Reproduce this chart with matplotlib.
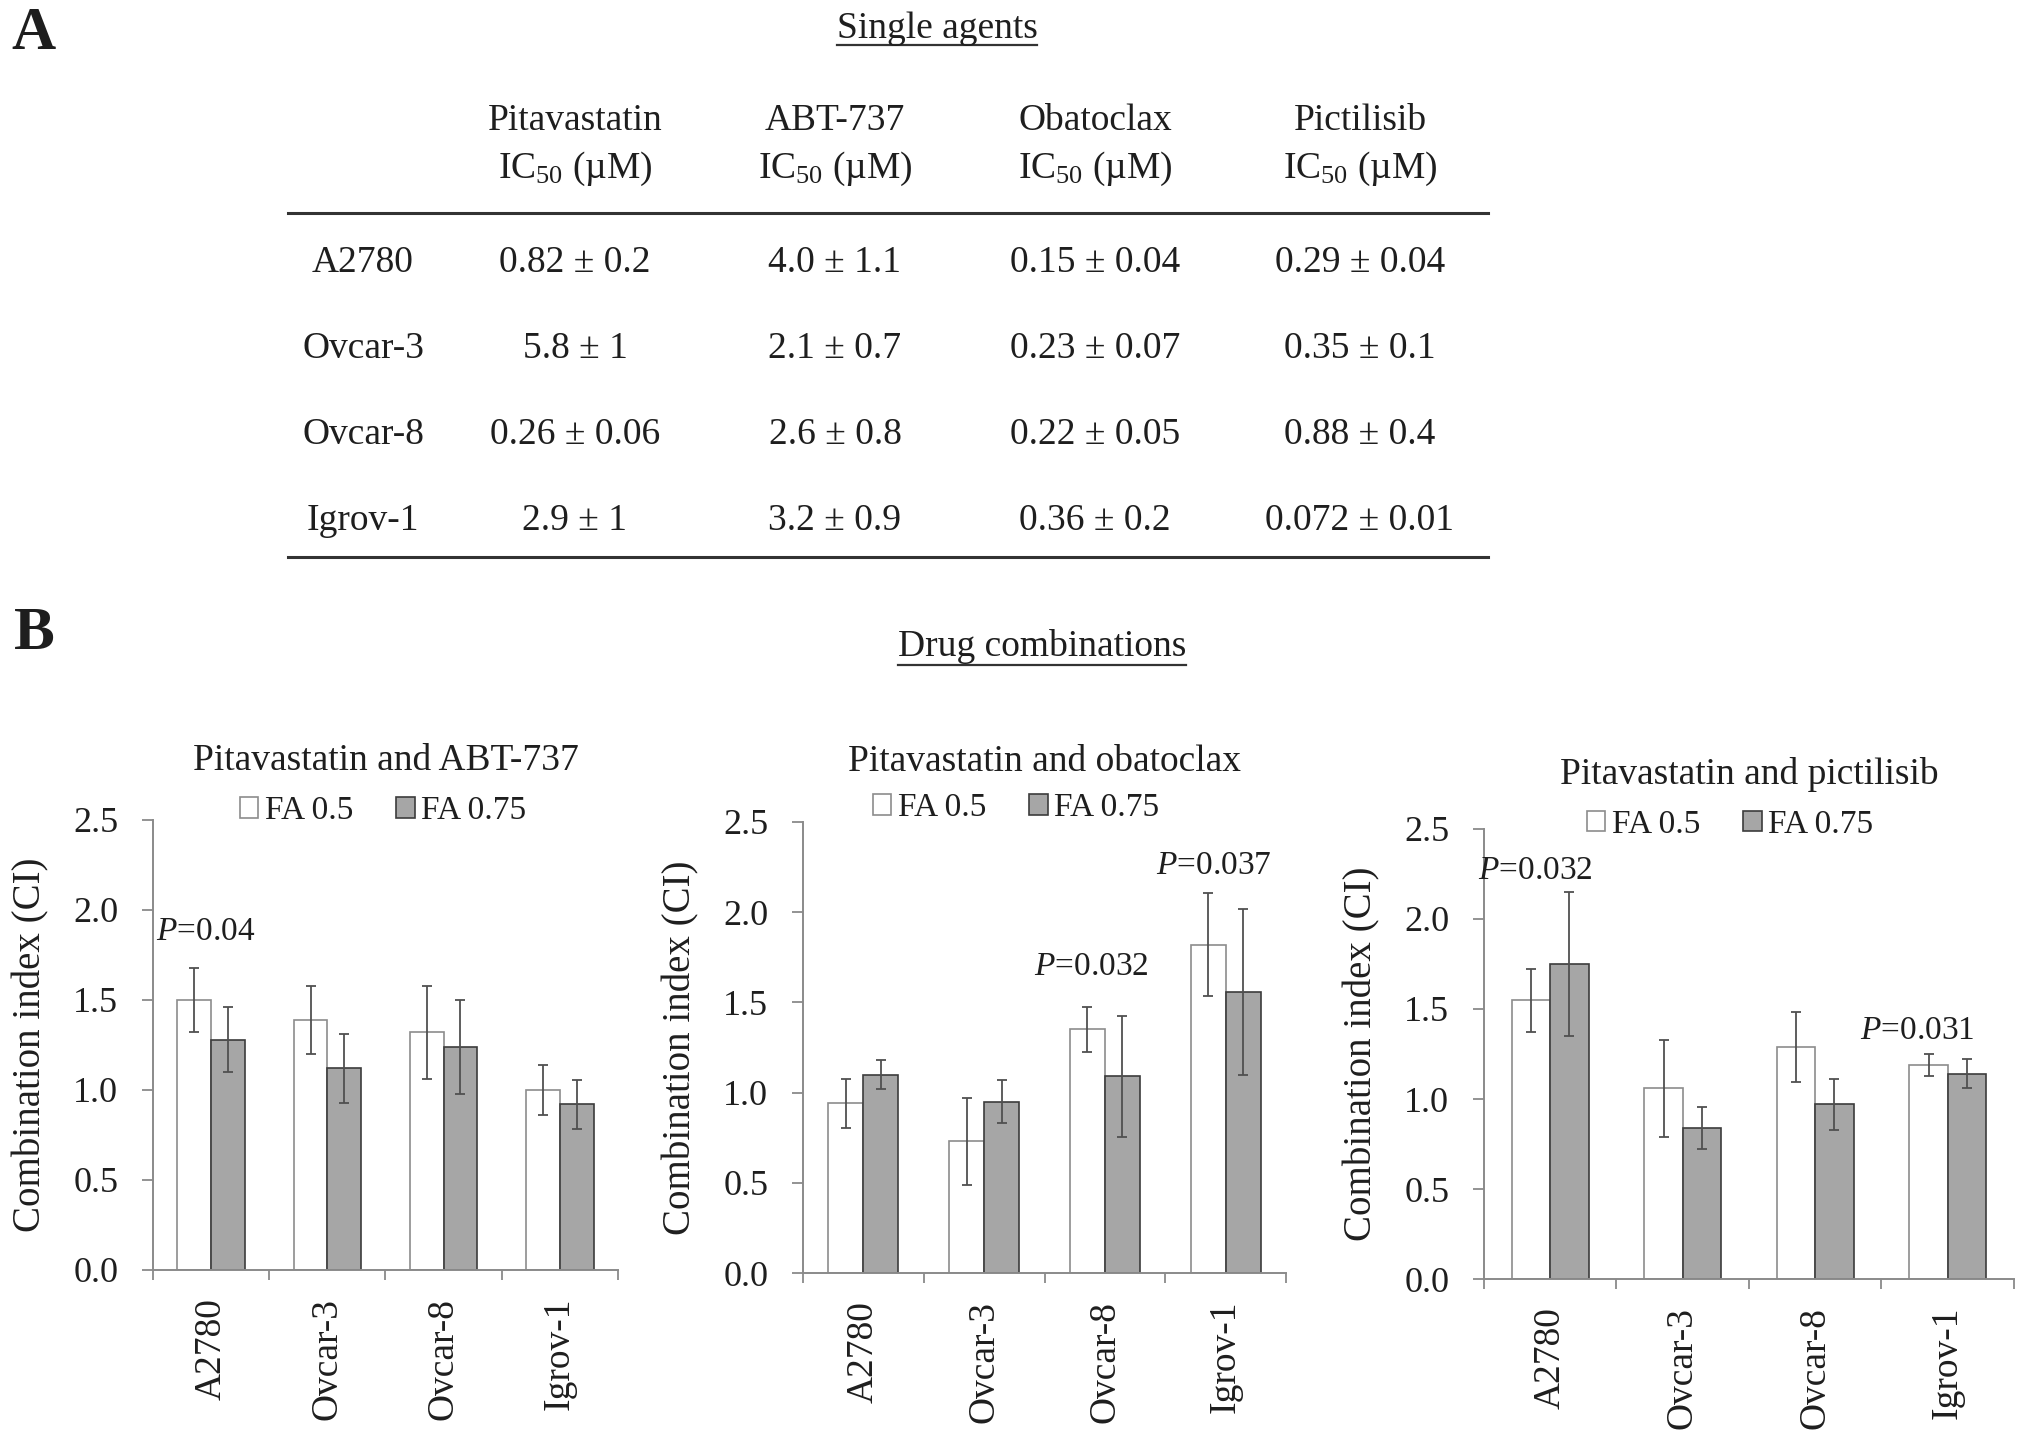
"""Single-agent IC50 table (A) and drug-combination CI bar charts (B)."""
import numpy as np
import matplotlib
matplotlib.use("Agg")
import matplotlib.pyplot as plt
from matplotlib.lines import Line2D
from matplotlib.patches import Patch

plt.rcParams["font.family"] = ["Liberation Serif", "DejaVu Serif"]
plt.rcParams["mathtext.fontset"] = "custom"
plt.rcParams["mathtext.rm"] = "Liberation Serif"
plt.rcParams["mathtext.it"] = "Liberation Serif:italic"

# ---- data -------------------------------------------------------------
cell_lines = ["A2780", "Ovcar-3", "Ovcar-8", "Igrov-1"]
drugs = ["Pitavastatin", "ABT-737", "Obatoclax", "Pictilisib"]

pitavastatin_ic50 = ["0.82 ± 0.2", "5.8 ± 1", "0.26 ± 0.06", "2.9 ± 1"]
abt737_ic50 = ["4.0 ± 1.1", "2.1 ± 0.7", "2.6 ± 0.8", "3.2 ± 0.9"]
obatoclax_ic50 = ["0.15 ± 0.04", "0.23 ± 0.07", "0.22 ± 0.05", "0.36 ± 0.2"]
pictilisib_ic50 = ["0.29 ± 0.04", "0.35 ± 0.1", "0.88 ± 0.4", "0.072 ± 0.01"]

combo_titles = ["Pitavastatin and ABT-737", "Pitavastatin and obatoclax",
                "Pitavastatin and pictilisib"]
series_labels = ["FA 0.5", "FA 0.75"]

abt_fa50 = [1.50, 1.39, 1.32, 1.00]
abt_fa50_err = [0.18, 0.19, 0.26, 0.14]
abt_fa75 = [1.28, 1.12, 1.24, 0.92]
abt_fa75_err = [0.18, 0.19, 0.26, 0.135]

oba_fa50 = [0.94, 0.73, 1.35, 1.82]
oba_fa50_err = [0.135, 0.24, 0.125, 0.285]
oba_fa75 = [1.10, 0.95, 1.09, 1.56]
oba_fa75_err = [0.08, 0.12, 0.335, 0.46]

pic_fa50 = [1.55, 1.06, 1.29, 1.19]
pic_fa50_err = [0.175, 0.27, 0.195, 0.06]
pic_fa75 = [1.75, 0.84, 0.97, 1.14]
pic_fa75_err = [0.40, 0.115, 0.14, 0.08]

# p-value labels per panel: (cell line index, text)
abt_pvals = [(0, "0.04")]
oba_pvals = [(2, "0.032"), (3, "0.037")]
pic_pvals = [(0, "0.032"), (3, "0.031")]

# ---- layout (pixels of a 2031 x 1443 canvas) --------------------------
W, H = 2031, 1443
TXT = "#1e1e1e"
AXC = "#8a8a8a"


def fx(x):
    return x / W


def fy(y):
    return 1 - y / H


fig = plt.figure(figsize=(W / 100, H / 100), dpi=100)

# panel letters and section titles
fig.text(fx(34), fy(34), "A", fontsize=44, fontweight="bold", ha="center",
         va="center", color=TXT)
fig.text(fx(34), fy(634), "B", fontsize=44, fontweight="bold", ha="center",
         va="center", color=TXT)
sec_a = fig.text(fx(937), fy(38), "Single agents", fontsize=27, ha="center",
                 va="baseline", color=TXT)
sec_b = fig.text(fx(1042), fy(656), "Drug combinations", fontsize=27,
                 ha="center", va="baseline", color=TXT)

# ---- table ------------------------------------------------------------
col_x = [575, 835, 1095, 1360]
row_y = [272, 358, 444, 530]
columns = [pitavastatin_ic50, abt737_ic50, obatoclax_ic50, pictilisib_ic50]

for x, name, vals in zip(col_x, drugs, columns):
    fig.text(fx(x), fy(130), name, fontsize=27, ha="center", va="baseline",
             color=TXT)
    fig.text(fx(x), fy(178), "IC$_{50}$ (µM)", fontsize=27, ha="center",
             va="baseline", color=TXT)
    for y, v in zip(row_y, vals):
        fig.text(fx(x), fy(y), v, fontsize=27, ha="center", va="baseline",
                 color=TXT)

for y, name in zip(row_y, cell_lines):
    fig.text(fx(363), fy(y), name, fontsize=27, ha="center", va="baseline",
             color=TXT)

for y in (213, 557):
    fig.add_artist(Line2D([fx(288), fx(1488)], [fy(y), fy(y)],
                          transform=fig.transFigure, color="#333333", lw=2.2))

# ---- bar charts -------------------------------------------------------
panels = [
    (combo_titles[0], abt_fa50, abt_fa50_err, abt_fa75, abt_fa75_err, abt_pvals),
    (combo_titles[1], oba_fa50, oba_fa50_err, oba_fa75, oba_fa75_err, oba_pvals),
    (combo_titles[2], pic_fa50, pic_fa50_err, pic_fa75, pic_fa75_err, pic_pvals),
]
# left, right, top, bottom of each plotting area
rects = [(153, 618, 820, 1270), (803, 1286, 822, 1273), (1484, 2014, 829, 1279)]
title_base = [770, 771, 784]
legend_xy = [(0.495, 1.02), (0.441, 1.031), (0.464, 1.009)]
# p label offsets (dx in categories, y in data)
pval_pos = [[(-0.05, 1.88)], [(-0.11, 1.70), (-0.10, 2.26)],
            [(-0.11, 2.27), (-0.23, 1.38)]]

x = np.arange(len(cell_lines))
bw = 0.29
err_kw = dict(ecolor="#505050", elinewidth=1.3, capsize=3.5, capthick=1.3)

for (title, m50, e50, m75, e75, pvals), (l, r, t, b), tb, lxy, ppos in zip(
        panels, rects, title_base, legend_xy, pval_pos):
    ax = fig.add_axes([fx(l), fy(b), (r - l) / W, (b - t) / H])
    ax.bar(x - bw / 2, m50, bw, yerr=e50, color="white", edgecolor="#8c8c8c",
           linewidth=1.2, error_kw=err_kw, zorder=2)
    ax.bar(x + bw / 2, m75, bw, yerr=e75, color="#a6a6a6", edgecolor="#3c3c3c",
           linewidth=1.2, error_kw=err_kw, zorder=2)

    ax.set_xlim(-0.5, len(cell_lines) - 0.5)
    ax.set_ylim(0, 2.5)
    ax.set_yticks(np.arange(0, 2.51, 0.5))
    ax.set_yticklabels([f"{v:.1f}" for v in np.arange(0, 2.51, 0.5)])
    ax.set_xticks(x)
    ax.set_xticklabels(cell_lines, rotation=90)
    ax.set_xticks(np.arange(-0.5, len(cell_lines)), minor=True)
    ax.tick_params(axis="x", which="major", length=0, pad=20, labelsize=27,
                   labelcolor=TXT)
    ax.tick_params(axis="x", which="minor", length=7, width=1.3, color=AXC,
                   direction="out")
    ax.tick_params(axis="y", length=8, width=1.3, color=AXC, pad=17,
                   labelsize=26, labelcolor=TXT)
    for side in ("top", "right"):
        ax.spines[side].set_visible(False)
    for side in ("left", "bottom"):
        ax.spines[side].set_color(AXC)
        ax.spines[side].set_linewidth(1.4)
    ax.set_ylabel("Combination index (CI)", fontsize=28, color=TXT, labelpad=17)

    fig.text(fx((l + r) / 2), fy(tb), title, fontsize=27, ha="center",
             va="baseline", color=TXT)

    handles = [Patch(facecolor="white", edgecolor="#8c8c8c", linewidth=1.2),
               Patch(facecolor="#a6a6a6", edgecolor="#3c3c3c", linewidth=1.2)]
    ax.legend(handles, series_labels, loc="center", bbox_to_anchor=lxy,
              ncol=2, frameon=False, fontsize=24, handlelength=0.55,
              handleheight=0.55, handletextpad=0.2, columnspacing=1.3,
              labelcolor=TXT)

    for (idx, ptxt), (dx, py) in zip(pvals, ppos):
        ax.text(idx + dx, py, f"$P$={ptxt}", fontsize=24, ha="center",
                va="center", color=TXT)

# underline the section titles
fig.canvas.draw()
renderer = fig.canvas.get_renderer()
for txt, uy in ((sec_a, 45), (sec_b, 665)):
    bb = txt.get_window_extent(renderer)
    fig.add_artist(Line2D([bb.x0 / W, bb.x1 / W], [fy(uy), fy(uy)],
                          transform=fig.transFigure, color="#333333", lw=1.6))

fig.savefig("out.png", dpi=100)
